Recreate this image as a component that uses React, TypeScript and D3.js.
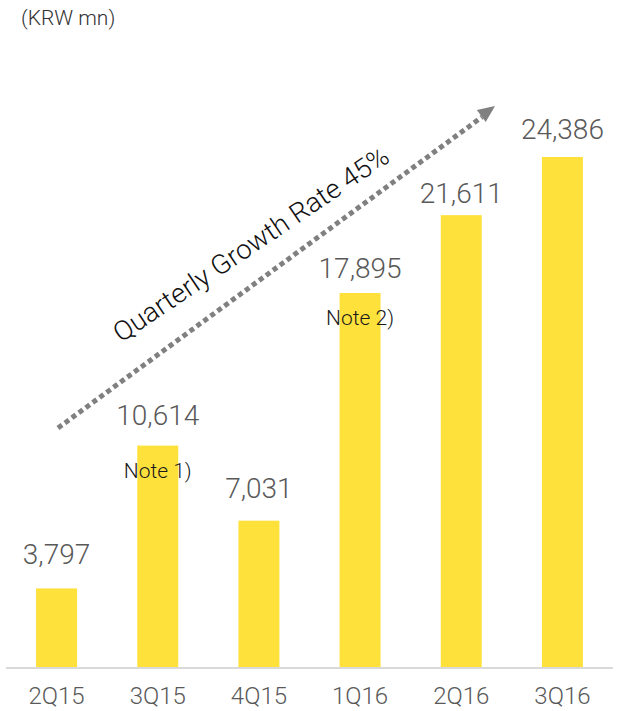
import React from "react";
import * as d3 from "d3";

const categories = ["2Q15", "3Q15", "4Q15", "1Q16", "2Q16", "3Q16"];
const values = [3797, 10614, 7031, 17895, 21611, 24386];
const notes = ["", "Note 1)", "", "Note 2)", "", ""];
const unitLabel = "(KRW mn)";
const growthLabel = "Quarterly Growth Rate 45%";

const W = 617;
const H = 711;
const labelGaps = [24, 21, 23, 15, 12, 18];
const FONT = "Roboto, 'Open Sans', 'DejaVu Sans', sans-serif";

export default function App() {
  const x = d3.scaleBand<string>().domain(categories).range([6, 613]).paddingInner(0.595).paddingOuter(0.2975);
  const y = d3.scaleLinear().domain([0, 24386]).range([668, 157]);
  const fmt = d3.format(",");

  // arrow annotation
  const a0 = [58, 428];
  const a1 = [482, 117];
  const ang = Math.atan2(a1[1] - a0[1], a1[0] - a0[0]);
  const tip = [495, 106];
  const hw = 7.5;
  const back = 17;
  const bx = tip[0] - back * Math.cos(ang);
  const by = tip[1] - back * Math.sin(ang);
  const tri = [
    [tip[0], tip[1]],
    [bx + hw * Math.sin(ang), by - hw * Math.cos(ang)],
    [bx - hw * Math.sin(ang), by + hw * Math.cos(ang)],
  ];

  return (
    <svg width={W} height={H} style={{ position: "absolute", left: 0, top: 0 }} fontFamily={FONT}>
      <rect width={W} height={H} fill="#ffffff" />
      <text x={21} y={25} fontSize={21} fill="#333333" fontWeight={300}>{unitLabel}</text>

      {categories.map((c, i) => (
        <rect key={c} x={x(c)} y={y(values[i])} width={x.bandwidth()} height={y(0) - y(values[i])} fill="#FFE13C" />
      ))}
      <line x1={6} x2={613} y1={668} y2={668} stroke="#d9d9d9" strokeWidth={2} />

      {categories.map((c, i) => (
        <text key={"v" + c} x={(x(c) as number) + x.bandwidth() / 2} y={y(values[i]) - labelGaps[i]} textAnchor="middle" fontSize={28} fontWeight={300} fill="#595959">
          {fmt(values[i])}
        </text>
      ))}
      {categories.map((c, i) =>
        notes[i] ? (
          <text key={"n" + c} x={(x(c) as number) + x.bandwidth() / 2} y={y(values[i]) + 32} textAnchor="middle" fontSize={21} fill="#1a1a1a" fontWeight={300}>
            {notes[i]}
          </text>
        ) : null
      )}
      {categories.map((c) => (
        <text key={"c" + c} x={(x(c) as number) + x.bandwidth() / 2} y={704} textAnchor="middle" fontSize={24} fontWeight={300} fill="#595959">
          {c}
        </text>
      ))}

      <line x1={a0[0]} y1={a0[1]} x2={a1[0]} y2={a1[1]} stroke="#808080" strokeWidth={5} strokeDasharray="5 3.6" />
      <polygon points={tri.map((p) => p.join(",")).join(" ")} fill="#808080" />

      <text transform="translate(121,343) rotate(-34)" fontSize={27} fontWeight={300} fill="#111111" textLength={326} lengthAdjust="spacingAndGlyphs">
        {growthLabel}
      </text>
    </svg>
  );
}
